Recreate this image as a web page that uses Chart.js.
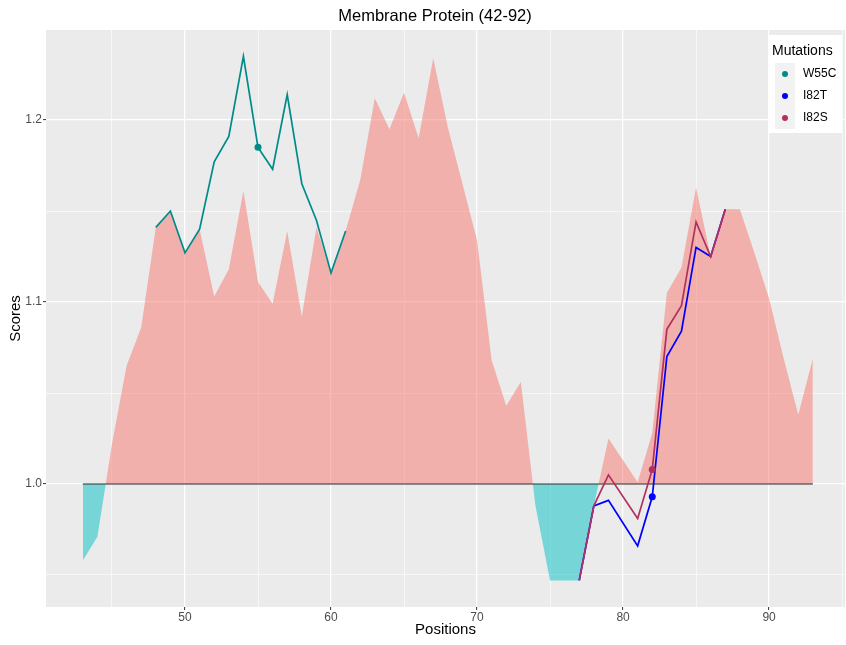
<!DOCTYPE html>
<html>
<head>
<meta charset="utf-8">
<title>Membrane Protein (42-92)</title>
<script src="https://cdn.jsdelivr.net/npm/chart.js@4.4.1/dist/chart.umd.min.js"></script>
<style>
  body { margin: 0; background: #fff; }
</style>
</head>
<body>
<canvas id="scoreChart" width="846" height="645"></canvas>
<script>
// sequence positions (80 is not in the data)
const positions = [43, 44, 45, 46, 47, 48, 49, 50, 51, 52, 53, 54, 55, 56, 57, 58, 59, 60, 61, 62,
  63, 64, 65, 66, 67, 68, 69, 70, 71, 72, 73, 74, 75, 76, 77, 78, 79, 81, 82, 83,
  84, 85, 86, 87, 88, 89, 90, 91, 92, 93];
const scores = [0.958, 0.971, 1.022, 1.065, 1.086, 1.141, 1.150, 1.127, 1.140, 1.103,
  1.118, 1.161, 1.111, 1.099, 1.139, 1.092, 1.141, 1.116, 1.139, 1.167,
  1.212, 1.195, 1.215, 1.190, 1.234, 1.196, 1.165, 1.134, 1.068, 1.043,
  1.056, 0.988, 0.947, 0.947, 0.947, 0.988, 1.025, 1.001, 1.028, 1.105,
  1.119, 1.163, 1.125, 1.151, 1.151, 1.127, 1.102, 1.069, 1.038, 1.069];

// mutant scores
const w55cPositions = [48, 49, 50, 51, 52, 53, 54, 55, 56, 57, 58, 59, 60, 61];
const w55cScores = [1.141, 1.150, 1.127, 1.140, 1.177, 1.191, 1.235, 1.185, 1.173, 1.214, 1.165, 1.145, 1.116, 1.139];
const i82Positions = [77, 78, 79, 81, 82, 83, 84, 85, 86, 87];
const i82tScores = [0.947, 0.988, 0.991, 0.966, 0.993, 1.070, 1.084, 1.130, 1.125, 1.151];
const i82sScores = [0.947, 0.988, 1.005, 0.981, 1.008, 1.085, 1.098, 1.144, 1.125, 1.151];

const mutationNames = ['W55C', 'I82T', 'I82S'];
const mutationSites = [55, 82, 82];
const mutationColors = ['#008b8b', '#0000ff', '#b03060'];

const baseline = 1.0;
const xTicks = [45, 50, 55, 60, 65, 70, 75, 80, 85, 90, 95];
const yTicks = [0.95, 1.0, 1.05, 1.1, 1.15, 1.2];

function toPoints(xs, ys) {
  return xs.map((x, i) => ({ x: x, y: ys[i] }));
}

function isMajorX(v) { return v % 10 === 0; }
function isMajorY(v) { return Math.round(v * 100) % 10 === 0; }

const fontFamily = '"Liberation Sans", Arial, sans-serif';
Chart.defaults.font.family = fontFamily;

// grey panel behind the plot
const panelBg = {
  id: 'panelBg',
  beforeDraw(chart) {
    const { ctx, chartArea: a } = chart;
    ctx.save();
    ctx.fillStyle = '#ebebeb';
    ctx.fillRect(a.left, a.top, a.right - a.left, a.bottom - a.top);
    ctx.restore();
  }
};

// title centred a little right of the canvas middle, like the original
const plotTitle = {
  id: 'plotTitle',
  afterDraw(chart) {
    const ctx = chart.ctx;
    ctx.save();
    ctx.fillStyle = '#000';
    ctx.font = '16.5px ' + fontFamily;
    ctx.textAlign = 'center';
    ctx.textBaseline = 'middle';
    ctx.fillText('Membrane Protein (42-92)', 435, 16);
    ctx.restore();
  }
};

// legend box inside the panel, top right
const mutationLegend = {
  id: 'mutationLegend',
  afterDraw(chart) {
    const ctx = chart.ctx;
    const x = 768, y = 35;
    ctx.save();
    ctx.fillStyle = '#fff';
    ctx.fillRect(x, y, 74, 98);
    ctx.fillStyle = '#000';
    ctx.font = '14px ' + fontFamily;
    ctx.textBaseline = 'alphabetic';
    ctx.fillText('Mutations', x + 4, y + 20);
    ctx.fillStyle = '#f2f2f2';
    ctx.fillRect(x + 7, 63, 20, 66);
    mutationNames.forEach((name, i) => {
      const cy = 74 + i * 22;
      ctx.fillStyle = mutationColors[i];
      ctx.beginPath();
      ctx.arc(x + 17, cy, 3, 0, Math.PI * 2);
      ctx.fill();
      ctx.fillStyle = '#000';
      ctx.font = '12px ' + fontFamily;
      ctx.textBaseline = 'middle';
      ctx.fillText(name, x + 35, cy);
    });
    ctx.restore();
  }
};

function mutationDataset(i, xs, ys, order) {
  return {
    label: mutationNames[i],
    data: toPoints(xs, ys),
    borderColor: mutationColors[i],
    backgroundColor: mutationColors[i],
    borderWidth: 1.7,
    pointRadius: c => (c.raw && c.raw.x === mutationSites[i] ? 3.5 : 0),
    pointBorderWidth: 0,
    fill: false,
    tension: 0,
    order: order
  };
}

const ctx = document.getElementById('scoreChart').getContext('2d');
const scoreChart = new Chart(ctx, {
  type: 'line',
  data: {
    datasets: [
      {
        label: 'Scores',
        data: toPoints(positions, scores),
        borderWidth: 0,
        borderColor: 'rgba(0,0,0,0)',
        pointRadius: 0,
        tension: 0,
        fill: {
          target: { value: baseline },
          above: 'rgba(248,118,109,0.5)',
          below: 'rgba(0,191,196,0.5)'
        },
        order: 5
      },
      {
        label: 'baseline',
        data: [{ x: positions[0], y: baseline }, { x: positions[positions.length - 1], y: baseline }],
        borderColor: 'rgba(60,60,60,0.75)',
        borderWidth: 1.6,
        pointRadius: 0,
        fill: false,
        order: 4
      },
      mutationDataset(0, w55cPositions, w55cScores, 3),
      mutationDataset(1, i82Positions, i82tScores, 2),
      mutationDataset(2, i82Positions, i82sScores, 1)
    ]
  },
  options: {
    responsive: false,
    animation: false,
    layout: { padding: { top: 30, right: 1 } },
    plugins: {
      legend: { display: false },
      tooltip: { enabled: false },
      title: { display: false }
    },
    scales: {
      x: {
        type: 'linear',
        min: 40.48,
        max: 95.2,
        afterBuildTicks: s => { s.ticks = xTicks.map(v => ({ value: v })); },
        afterFit: s => { s.height = 38; },
        border: { display: false },
        grid: {
          color: '#fff',
          lineWidth: c => (isMajorX(c.tick.value) ? 1.2 : 0.6),
          tickColor: c => (isMajorX(c.tick.value) ? '#333' : 'rgba(0,0,0,0)'),
          tickWidth: 1,
          tickLength: 3
        },
        ticks: {
          autoSkip: false,
          maxRotation: 0,
          padding: 0,
          color: '#4d4d4d',
          font: { size: 12 },
          callback: v => (isMajorX(v) ? String(v) : '')
        },
        title: {
          display: true,
          text: 'Positions',
          color: '#000',
          font: { size: 15 },
          padding: { top: 0, bottom: 6 }
        }
      },
      y: {
        type: 'linear',
        min: 0.9324,
        max: 1.2495,
        afterBuildTicks: s => { s.ticks = yTicks.map(v => ({ value: v })); },
        afterFit: s => { s.width = 46; },
        border: { display: false },
        grid: {
          color: '#fff',
          lineWidth: c => (isMajorY(c.tick.value) ? 1.2 : 0.6),
          tickColor: c => (isMajorY(c.tick.value) ? '#333' : 'rgba(0,0,0,0)'),
          tickWidth: 1,
          tickLength: 3
        },
        ticks: {
          autoSkip: false,
          padding: 1,
          color: '#4d4d4d',
          font: { size: 12 },
          callback: v => (isMajorY(v) ? v.toFixed(1) : '')
        },
        title: {
          display: true,
          text: 'Scores',
          color: '#000',
          font: { size: 15 },
          padding: { top: 7, bottom: 0 }
        }
      }
    }
  },
  plugins: [panelBg, plotTitle, mutationLegend]
});
</script>
</body>
</html>
